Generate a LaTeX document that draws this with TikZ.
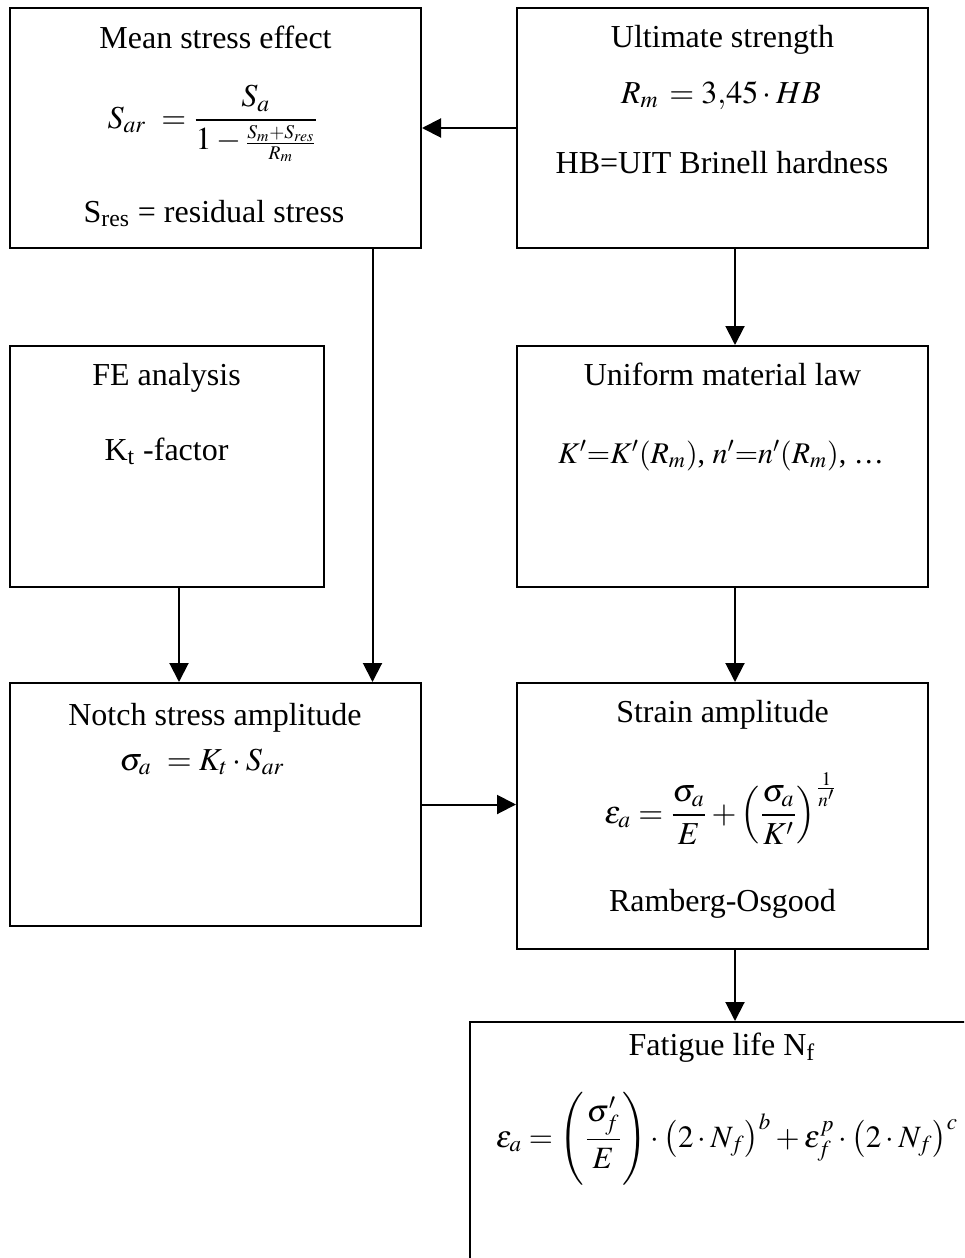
\documentclass[tikz,border=0pt]{standalone}
\usepackage{amsmath}
\usepackage{mathptmx}
\usepackage{fontspec}
\setmainfont{Liberation Serif}
\usetikzlibrary{arrows.meta,fit}
\begin{document}
\begin{tikzpicture}[x=0.5pt,y=-0.5pt,
  box/.style={draw, line width=1pt, inner sep=0pt},
  lbl/.style={anchor=base, font=\fontsize{16}{19}\selectfont, inner sep=0pt},
  arr/.style={line width=1pt, -{Triangle[length=9.5pt,width=9.5pt]}}]
\useasboundingbox (0,0) rectangle (964,1258);
\clip (0,0) rectangle (964,1258);
\fill[white] (0,0) rectangle (964,1258);
% boxes
\node[box, fit={(10,8) (421,248)}] (mean) {};
\node[box, fit={(517,8) (928,248)}] (ult) {};
\node[box, fit={(10,346) (324,587)}] (fe) {};
\node[box, fit={(517,346) (928,587)}] (uni) {};
\node[box, fit={(10,683) (421,926)}] (notch) {};
\node[box, fit={(517,683) (928,949)}] (strain) {};
\node[box, fit={(470,1022) (1000,1300)}] (fat) {};
% texts
\node[lbl] (meanT) at (215.5,48) {Mean stress effect};
\node[lbl] (meanF) at (213,128) {$S_{ar}\ = \dfrac{S_a}{1-\scalebox{0.82}{$\frac{S_m+S_{res}}{R_m}$}}$};
\node[lbl] (meanR) at (214,222) {S\textsubscript{res} = residual stress};
\node[lbl] (ultT) at (722.5,47) {Ultimate strength};
\node[lbl] (ultF) at (721,103) {$R_m\, = 3{,}45\cdot HB$};
\node[lbl] (ultR) at (722,173) {HB=UIT Brinell hardness};
\node[lbl] (feT) at (166.5,385) {FE analysis};
\node[lbl] (feK) at (166.5,460) {K\textsubscript{t} -factor};
\node[lbl] (uniT) at (722.5,385) {Uniform material law};
\node[lbl, font=\fontsize{15}{18}\selectfont] (uniF) at (721,463) {$K^{\prime}{=}K^{\prime}(R_m)$, $n^{\prime}{=}n^{\prime}(R_m)$, \dots};
\node[lbl] (notchT) at (215,725) {Notch stress amplitude};
\node[lbl] (notchF) at (202,770) {$\sigma_a\ = K_t\cdot S_{ar}$};
\node[lbl] (strT) at (722.5,722) {Strain amplitude};
\node[lbl] (strF) at (721,823) {$\varepsilon_a = \dfrac{\sigma_a}{E}+\left(\dfrac{\sigma_a}{K^{\prime}}\right)^{\frac{1}{n^{\prime}}}$};
\node[lbl] (strR) at (722.5,911) {Ramberg-Osgood};
\node[lbl] (fatT) at (722,1055) {Fatigue life N\textsubscript{f}};
\node[lbl, font=\fontsize{15.5}{18}\selectfont] (fatF) at (727,1147) {$\varepsilon_a = \left(\dfrac{\sigma_f^{\prime}}{E}\right)\cdot\bigl(2\cdot N_f\bigr)^b+\varepsilon_f^p\cdot\bigl(2\cdot N_f\bigr)^c$};
% connectors
\coordinate (rc) at (735,0);
\coordinate (mc) at (372.5,0);
\coordinate (fc) at (179,0);
\draw[arr] (ult.west) -- (ult.west -| mean.east);
\draw[arr] (ult.south -| rc) -- (uni.north -| rc);
\draw[arr] (uni.south -| rc) -- (strain.north -| rc);
\draw[arr] (strain.south -| rc) -- (fat.north -| rc);
\draw[arr] (mean.south -| mc) -- (notch.north -| mc);
\draw[arr] (fe.south -| fc) -- (notch.north -| fc);
\draw[arr] (notch.east) -- (notch.east -| strain.west);
\end{tikzpicture}
\end{document}
